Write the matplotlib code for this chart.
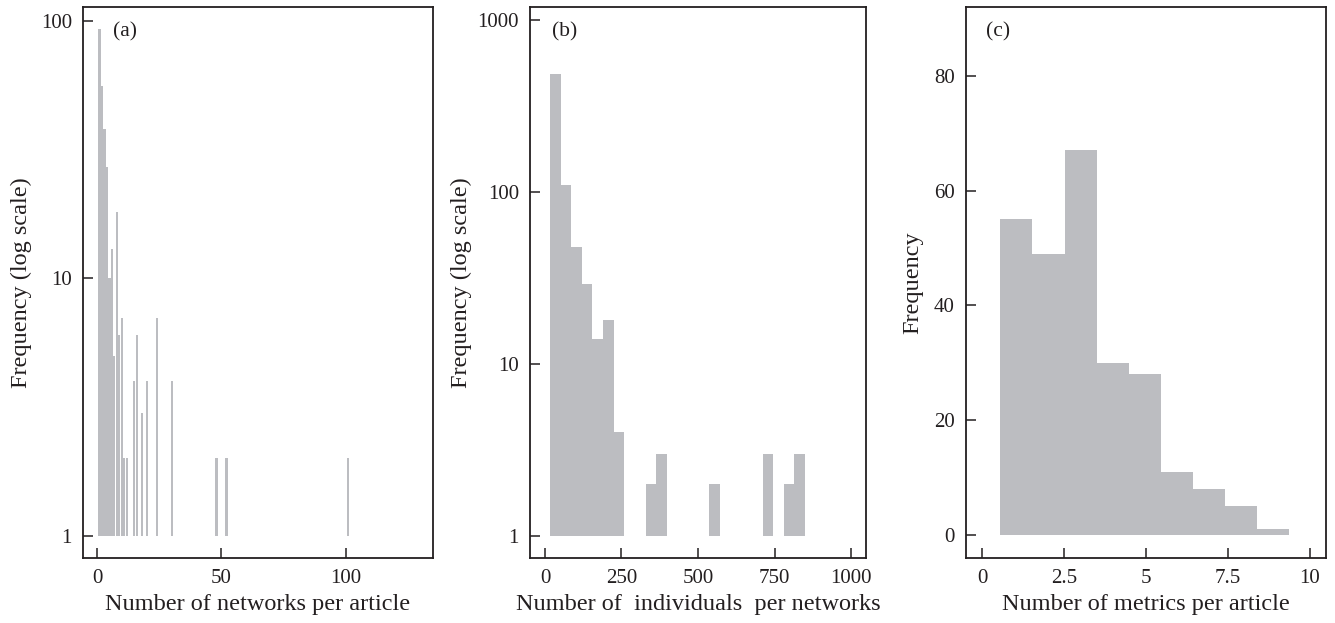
import numpy as np
import matplotlib
matplotlib.use('Agg')
import matplotlib.pyplot as plt

# (a) networks per article: value -> number of articles
net_values = [1, 2, 3, 4, 5, 6, 7, 8, 9, 10, 11, 12, 15, 16, 18, 20, 24, 30, 48, 52, 101]
net_counts = [93, 56, 38, 27, 10, 13, 5, 18, 6, 7, 2, 2, 4, 6, 3, 4, 7, 4, 2, 2, 2]

# (b) individuals per network: histogram bins
ind_bin_start = 16
ind_bin_width = 34.75
ind_counts = [487, 110, 48, 29, 14, 18, 4, 0, 0, 2, 3, 0, 0, 0, 0, 2, 0, 0, 0, 0, 3, 0, 2, 3]

# (c) metrics per article
met_edges = [0.55, 1.53, 2.51, 3.49, 4.47, 5.45, 6.43, 7.41, 8.39, 9.37]
met_counts = [55, 49, 67, 30, 28, 11, 8, 5, 1]

BAR = '#bcbdc1'
INK = '#231f20'
W, H = 1335, 623

plt.rcParams['font.family'] = ['Liberation Serif', 'DejaVu Serif']
plt.rcParams['font.size'] = 15

fig = plt.figure(figsize=(W / 100, H / 100), dpi=100)


def add_ax(left, right, top=7, bottom=558):
    ax = fig.add_axes([left / W, 1 - bottom / H, (right - left) / W, (bottom - top) / H])
    for sp in ax.spines.values():
        sp.set_linewidth(1.3)
        sp.set_color(INK)
    ax.tick_params(direction='in', length=7, width=1.1, color=INK, labelcolor=INK,
                   labelsize=15, pad=8, top=False, right=False)
    return ax


LAB = 17.5

# panel (a)
ax = add_ax(83, 433)
vals = np.array(net_values)
cnts = np.array(net_counts)
ax.bar(vals, cnts - 1, width=0.9, bottom=1, color=BAR, linewidth=0)
ax.set_yscale('log')
ax.set_ylim(0.82, 113)
ax.set_xlim(-5.6, 135)
ax.set_yticks([1, 10, 100])
ax.set_yticklabels(['1', '10', '100'])
ax.minorticks_off()
ax.set_xticks([0, 50, 100])
ax.set_xlabel('Number of networks per article', fontsize=LAB, labelpad=4, color=INK)
ax.set_ylabel('Frequency (log scale)', fontsize=LAB, labelpad=6, color=INK)
ax.text(0.086, 0.955, '(a)', transform=ax.transAxes, fontsize=15.5, color=INK, va='center')

# panel (b)
ax = add_ax(530, 866)
c = np.array(ind_counts)
left = ind_bin_start + ind_bin_width * np.arange(len(c))
keep = c > 0
ax.bar(left[keep], c[keep] - 1, width=ind_bin_width, bottom=1, align='edge',
       color=BAR, linewidth=0)
ax.set_yscale('log')
ax.set_ylim(0.745, 1190)
ax.set_xlim(-49, 1049)
ax.set_yticks([1, 10, 100, 1000])
ax.set_yticklabels(['1', '10', '100', '1000'])
ax.minorticks_off()
ax.set_xticks([0, 250, 500, 750, 1000])
ax.set_xlabel('Number of  individuals  per networks', fontsize=LAB, labelpad=4, color=INK)
ax.set_ylabel('Frequency (log scale)', fontsize=LAB, labelpad=4, color=INK)
ax.text(0.065, 0.955, '(b)', transform=ax.transAxes, fontsize=15.5, color=INK, va='center')

# panel (c)
ax = add_ax(966, 1326)
e = np.array(met_edges)
ax.bar(e[:-1], met_counts, width=np.diff(e), align='edge', color=BAR, linewidth=0)
ax.set_ylim(-4, 92)
ax.set_xlim(-0.5, 10.5)
ax.set_yticks([0, 20, 40, 60, 80])
ax.set_xticks([0, 2.5, 5, 7.5, 10])
ax.set_xticklabels(['0', '2.5', '5', '7.5', '10'])
ax.set_xlabel('Number of metrics per article', fontsize=LAB, labelpad=4, color=INK)
ax.set_ylabel('Frequency', fontsize=LAB, labelpad=8, color=INK)
ax.text(0.055, 0.955, '(c)', transform=ax.transAxes, fontsize=15.5, color=INK, va='center')

fig.savefig('out.png', dpi=100)
